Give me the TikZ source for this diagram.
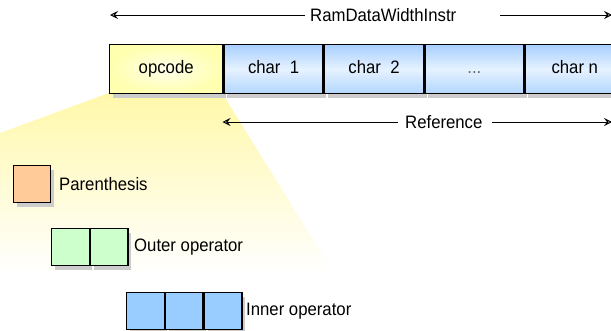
\documentclass[tikz,border=0pt]{standalone}
\usepackage{fontspec}
\setmainfont{Liberation Sans}[FakeStretch=0.93]
\usetikzlibrary{arrows.meta,shadows}
\definecolor{fanY}{RGB}{255,248,170}
\definecolor{fanM}{RGB}{255,252,220}
\definecolor{opY}{RGB}{255,255,175}
\definecolor{opI}{RGB}{255,255,235}
\definecolor{bluT}{RGB}{168,207,255}
\definecolor{bluM}{RGB}{230,242,255}
\definecolor{bluB}{RGB}{178,214,255}
\definecolor{parC}{RGB}{255,204,153}
\definecolor{outC}{RGB}{204,255,204}
\definecolor{innC}{RGB}{153,204,255}
\tikzset{
  txt/.style={font=\fontsize{18}{20}\selectfont, text=black},
  shad/.style={general shadow={fill=black!20, shadow xshift=3pt, shadow yshift=-4pt}},
  cellbox/.style={draw=black, line width=1.4pt, rectangle, inner sep=0pt, shad, txt},
  topcell/.style={cellbox, minimum height=49pt, minimum width=99pt, anchor=north west,
    text height=13pt, text depth=3.5pt},
  charcell/.style={topcell, top color=bluT, bottom color=bluB, middle color=bluM},
  legcell/.style={cellbox, minimum width=37.5pt, minimum height=37pt, anchor=north west},
  arr/.style={-{Stealth[open,length=8pt,width=8pt,inset=3pt]}, line width=1pt},
  lbl/.style={txt, inner sep=0pt}
}
\begin{document}
\begin{tikzpicture}[x=1pt,y=1pt]
\clip (0,0) rectangle (611,-330);
\fill[white] (0,0) rectangle (611,-330);
% fan
\shade[top color=fanY, middle color=fanM, bottom color=white]
  (109,-93) -- (222,-93) -- (335,-275) -- (0,-275) -- (0,-133) -- cycle;
% top arrow
\node[lbl, anchor=west] (ram) at (310,-15) {RamDataWidthInstr};
\coordinate (ramL) at (305,-15);
\coordinate (ramR) at (500,-15);
\coordinate (tl) at (110,-15);
\coordinate (tr) at (612,-15);
\draw[arr] (ramL) -- (tl);
\draw[arr] (ramR) -- (tr);
% cells
\node[topcell, minimum width=113pt, inner color=opI, outer color=opY] (op) at (109,-44) {opcode};
\node[charcell] (c1) at (op.north east) {char\ \ 1};
\node[charcell] (c2) at (c1.north east) {char\ \ 2};
\node[charcell, text=black!60] (c3) at (c2.north east) {...};
\node[charcell] (cn) at (c3.north east) {char n};
% reference arrow
\node[lbl, anchor=west] (ref) at (405,-122) {Reference};
\coordinate (refL) at (398,-122);
\coordinate (refR) at (492,-122);
\coordinate (rl) at (222.5,-122);
\coordinate (rr) at (612,-122);
\draw[arr] (refL) -- (rl);
\draw[arr] (refR) -- (rr);
% legend
\node[legcell, fill=parC, minimum width=37pt] (p1) at (13,-165) {};
\node[lbl, anchor=west] (plbl) at (59,-184) {Parenthesis};
\node[legcell, fill=outC] (o1) at (51,-228) {};
\node[legcell, fill=outC] (o2) at (o1.north east) {};
\node[lbl, anchor=west] (olbl) at (134,-247) {Outer operator};
\node[legcell, fill=innC] (i1) at (126,-292) {};
\node[legcell, fill=innC] (i2) at (i1.north east) {};
\node[legcell, fill=innC] (i3) at (i2.north east) {};
\node[lbl, anchor=west] (ilbl) at (246,-311) {Inner operator};
\end{tikzpicture}
\end{document}
